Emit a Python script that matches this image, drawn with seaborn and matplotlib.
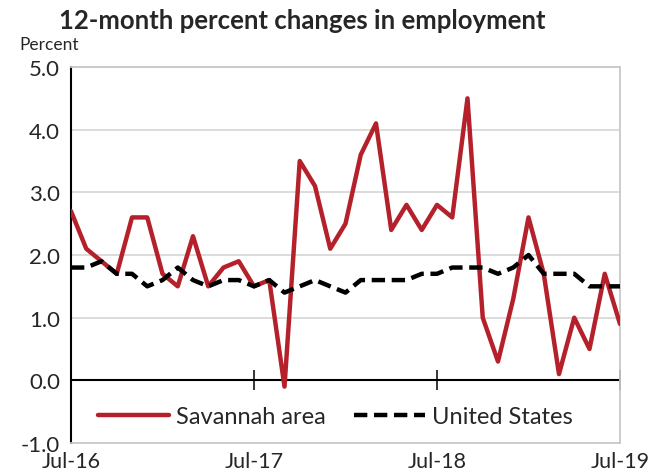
import matplotlib
matplotlib.use("Agg")
import matplotlib.pyplot as plt
import seaborn as sns
import pandas as pd

# monthly data, Jul-16 .. Jul-19
months = pd.date_range("2016-07-01", "2019-07-01", freq="MS")
savannah = [2.7, 2.1, 1.9, 1.7, 2.6, 2.6, 1.7, 1.5, 2.3, 1.5, 1.8, 1.9,
            1.5, 1.6, -0.1, 3.5, 3.1, 2.1, 2.5, 3.6, 4.1, 2.4, 2.8, 2.4,
            2.8, 2.6, 4.5, 1.0, 0.3, 1.3, 2.6, 1.7, 0.1, 1.0, 0.5, 1.7, 0.9]
us = [1.8, 1.8, 1.9, 1.7, 1.7, 1.5, 1.6, 1.8, 1.6, 1.5, 1.6, 1.6,
      1.5, 1.6, 1.4, 1.5, 1.6, 1.5, 1.4, 1.6, 1.6, 1.6, 1.6, 1.7,
      1.7, 1.8, 1.8, 1.8, 1.7, 1.8, 2.0, 1.7, 1.7, 1.7, 1.5, 1.5, 1.5]
series_names = ["Savannah area", "United States"]
x_tick_labels = ["Jul-16", "Jul-17", "Jul-18", "Jul-19"]
y_ticks = [-1.0, 0.0, 1.0, 2.0, 3.0, 4.0, 5.0]

df = pd.DataFrame({"idx": range(len(months)),
                   series_names[0]: savannah, series_names[1]: us})
long = df.melt(id_vars="idx", var_name="series", value_name="pct")

sns.set_style("white")
plt.rcParams["font.family"] = ["Lato", "DejaVu Sans"]

fig = plt.figure(figsize=(6.49, 4.77), dpi=100)
ax = fig.add_axes([0.1094, 0.0692, 0.8459, 0.7882])

red = "#B5212B"
for name, color, ls in [(series_names[0], red, "-"), (series_names[1], "black", (0, (3, 1.5)))]:
    sub = long[long["series"] == name]
    sns.lineplot(data=sub, x="idx", y="pct", ax=ax, color=color, lw=3.2,
                 linestyle=ls, label=name, zorder=3)

ax.set_xlim(0, len(months) - 1)
ax.set_ylim(-1, 5)
ax.set_yticks(y_ticks)
ax.set_yticklabels([f"{v:.1f}" for v in y_ticks], fontsize=16)
ax.set_xticks([0, 12, 24, 36])
ax.set_xticklabels(x_tick_labels, fontsize=15.5)
ax.tick_params(axis="x", length=0, pad=6)
ax.tick_params(axis="y", length=0, pad=8)
ax.set_xlabel("")
ax.set_ylabel("")

for v in y_ticks[2:]:
    ax.axhline(v, color="#d9d9d9", lw=1.3, zorder=1)

for side in ["top", "right", "bottom"]:
    ax.spines[side].set_color("#c8c8c8")
    ax.spines[side].set_linewidth(1.3)
ax.spines["left"].set_color("black")
ax.spines["left"].set_linewidth(1.5)

# zero axis with year ticks
ax.axhline(0, color="black", lw=1.5, zorder=2)
sec = ax.secondary_xaxis(1 / 6)
sec.set_xticks([12, 24, 36])
sec.tick_params(axis="x", direction="inout", length=14, width=1.3, labelbottom=False)
sec.spines["bottom"].set_visible(False)

leg = ax.legend(loc="center left", bbox_to_anchor=(0.01, 0.07), ncol=2, frameon=False,
                fontsize=17, handlelength=3.0, handletextpad=0.3, columnspacing=1.2)

fig.text(0.465, 0.955, "12-month percent changes in employment", ha="center", va="center",
         fontsize=18.5, fontweight="bold")
fig.text(0.03, 0.905, "Percent", ha="left", va="center", fontsize=12.5)

fig.savefig("out.png", dpi=100)
